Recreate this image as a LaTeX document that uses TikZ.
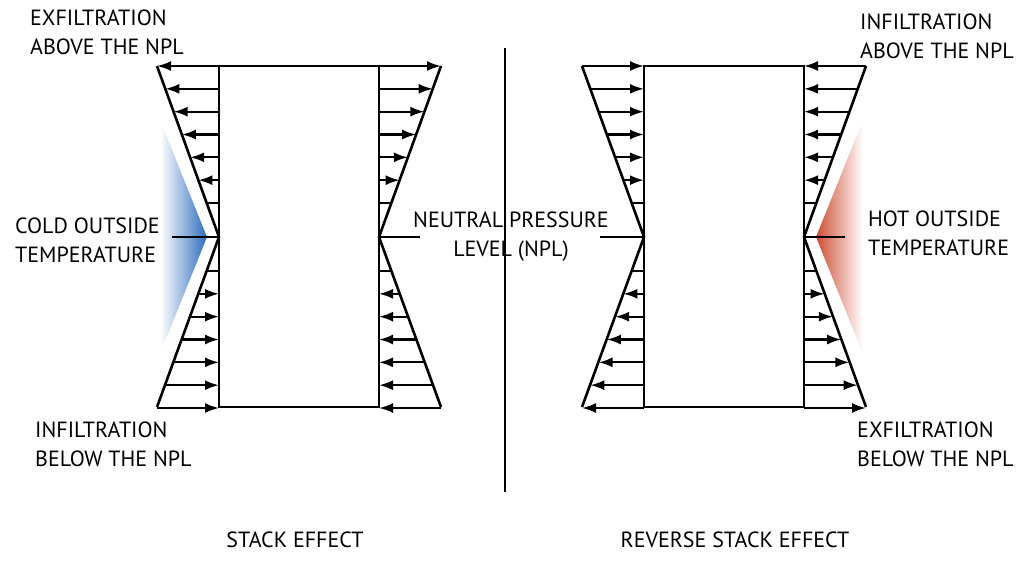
\documentclass[tikz,border=0pt]{standalone}
\usepackage{fontspec}
\setmainfont{PT Sans}
\usetikzlibrary{arrows.meta}
\definecolor{coldblue}{HTML}{2F6DBE}
\definecolor{hotred}{HTML}{CF4E36}

\begin{document}
\begin{tikzpicture}[x=1pt, y=-1pt,
  wall/.style={line width=2.6pt},
  flow/.style={line width=2.2pt, -{Latex[length=14pt, width=10pt]}},
  tick/.style={line width=2.2pt},
  lbl/.style={font=\fontsize{22}{29}\selectfont, inner sep=0pt,
    align=left, anchor=north west},
  caption/.style={font=\fontsize{22}{29}\selectfont, inner sep=0pt,
    anchor=north}
]
  \useasboundingbox (0,0) rectangle (1025,566);

  % Temperature wedges
  \shade[left color=white, right color=coldblue]
    (160,120) -- (207,237) -- (160,354) -- cycle;
  \shade[left color=hotred, right color=white]
    (816,237) -- (863,120) -- (863,354) -- cycle;

  % Buildings
  \draw[wall] (219,66) rectangle (379,407);
  \draw[wall] (644,66) rectangle (804,407);

  % Pressure profiles
  \foreach \wx/\dir in {219/-1, 379/1, 644/-1, 804/1} {
    \draw[wall] (\wx+\dir*62,66) -- (\wx,237) -- (\wx+\dir*62,407);
    \draw[tick] (\wx,203) -- ++(\dir*12.3,0);
    \draw[tick] (\wx,271) -- ++(\dir*12.3,0);
  }

  % Stack effect: out above, in below
  \foreach \wx/\dir in {219/-1, 379/1}
    \foreach \k in {1,...,6} {
      \pgfmathsetmacro\d{34+137*\k/6}
      \pgfmathsetmacro\w{62*\d/171}
      \draw[flow] (\wx,237-\d) -- (\wx+\dir*\w,237-\d);
      \draw[flow] (\wx+\dir*\w,237+\d) -- (\wx,237+\d);
    }

  % Reverse stack effect: in above, out below
  \foreach \wx/\dir in {644/-1, 804/1}
    \foreach \k in {1,...,6} {
      \pgfmathsetmacro\d{34+137*\k/6}
      \pgfmathsetmacro\w{62*\d/171}
      \draw[flow] (\wx+\dir*\w,237-\d) -- (\wx,237-\d);
      \draw[flow] (\wx,237+\d) -- (\wx+\dir*\w,237+\d);
    }

  % Neutral pressure level
  \draw[tick] (172,237) -- (219,237);
  \draw[tick] (379,237) -- (420,237);
  \draw[tick] (600,237) -- (644,237);
  \draw[tick] (804,237) -- (845,237);

  % Divider
  \draw[wall] (505,48) -- (505,492);

  % Labels
  \node[lbl] (exAbove) at (30,10) {EXFILTRATION\\ABOVE THE NPL};
  \node[lbl] (inAbove) at (860,14) {INFILTRATION\\ABOVE THE NPL};
  \node[lbl] (cold) at (15,218) {COLD OUTSIDE\\TEMPERATURE};
  \node[lbl] (hot) at (868,211) {HOT OUTSIDE\\TEMPERATURE};
  \node[lbl, align=center, anchor=north] (npl) at (511,212)
    {NEUTRAL PRESSURE\\LEVEL (NPL)};
  \node[lbl] (inBelow) at (35,422) {INFILTRATION\\BELOW THE NPL};
  \node[lbl] (exBelow) at (857,422) {EXFILTRATION\\BELOW THE NPL};

  \node[caption] (stack) at (295,532) {STACK EFFECT};
  \node[caption] (revStack) at (735,532) {REVERSE STACK EFFECT};
\end{tikzpicture}
\end{document}
